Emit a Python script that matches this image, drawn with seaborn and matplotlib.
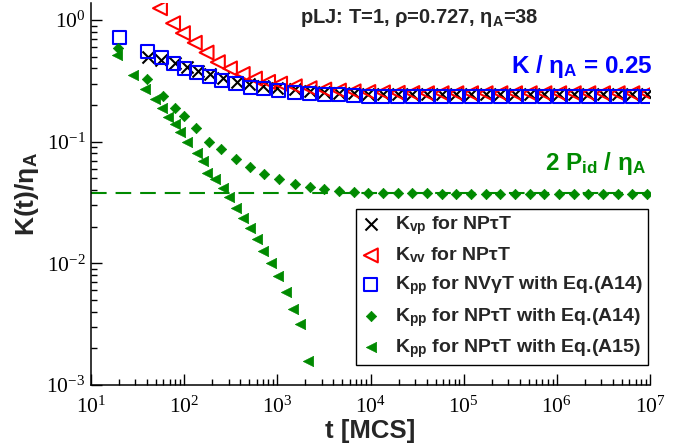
import numpy as np
import pandas as pd
import matplotlib
matplotlib.use('Agg')
import matplotlib.pyplot as plt
from matplotlib.ticker import FuncFormatter
import seaborn as sns

# --- values ---
# shared late-time grid (plateau region), MCS
t_late = [1540, 2220, 3190, 4580, 6590, 9470, 13600, 19600, 28100, 40400,
          58000, 83500, 120000, 172000, 248000, 356000, 512000, 736000,
          1060000, 1520000, 2180000, 3130000, 4500000, 6470000, 9300000]

# K_vp for NPtauT (black crosses)
t_vp = [41, 57, 80, 106, 142, 189, 263, 366, 500, 707, 1000] + t_late
k_vp = [0.50, 0.47, 0.44, 0.41, 0.38, 0.36, 0.335, 0.31, 0.30, 0.288, 0.278,
        0.27, 0.262, 0.256, 0.252, 0.249, 0.247, 0.246, 0.245, 0.245, 0.245,
        0.245, 0.245, 0.245, 0.245, 0.245, 0.245, 0.245, 0.245, 0.245, 0.245,
        0.245, 0.245, 0.245, 0.245, 0.245]

# K_vv for NPtauT (red open triangles)
t_vv = [55, 76, 97, 130, 174, 230, 310, 425, 575, 795, 1070] + t_late
k_vv = [1.25, 0.94, 0.78, 0.65, 0.54, 0.45, 0.40, 0.36, 0.33, 0.31, 0.30,
        0.285, 0.275, 0.268, 0.263, 0.259, 0.256, 0.254, 0.252, 0.251, 0.25,
        0.25, 0.25, 0.25, 0.25, 0.25, 0.25, 0.25, 0.25, 0.25, 0.25,
        0.25, 0.25, 0.25, 0.25, 0.25]

# K_pp for NVgammaT with Eq.(A14) (blue open squares)
t_pp_nvt = [20, 40, 57, 77, 100, 137, 186, 250, 360, 515, 717, 1040] + t_late
k_pp_nvt = [0.72, 0.556, 0.49, 0.44, 0.40, 0.37, 0.345, 0.32, 0.30, 0.28, 0.272, 0.262,
            0.255, 0.249, 0.245, 0.242, 0.239, 0.237, 0.236, 0.235, 0.235, 0.235,
            0.235, 0.235, 0.235, 0.235, 0.235, 0.235, 0.235, 0.235, 0.235, 0.235,
            0.235, 0.235, 0.235, 0.235, 0.235]

# K_pp for NPtauT with Eq.(A14) (green diamonds)
t_pp_a14 = [19.5, 40, 59, 80, 100, 135, 186, 250, 360, 515, 717, 1040] + t_late
k_pp_a14 = [0.589, 0.327, 0.238, 0.189, 0.163, 0.129, 0.0995, 0.087, 0.0716, 0.0616, 0.0543, 0.049,
            0.0449, 0.0422, 0.0405, 0.0396, 0.0389, 0.0382, 0.0378, 0.0377, 0.0376, 0.0376,
            0.0375, 0.0375, 0.0375, 0.0375, 0.0375, 0.0375, 0.0375, 0.0375, 0.0375, 0.0375,
            0.0375, 0.0375, 0.0375, 0.0375, 0.0375]

# K_pp for NPtauT with Eq.(A15) (green filled triangles)
t_pp_a15 = [19, 28.3, 38, 48.6, 57.8, 67, 79.6, 90, 106, 136, 158, 178, 213, 260,
            302, 360, 428, 508, 604, 700, 853, 1015, 1236, 1470, 1746, 2130]
k_pp_a15 = [0.515, 0.353, 0.271, 0.224, 0.189, 0.160, 0.140, 0.120, 0.100, 0.080,
            0.069, 0.055, 0.049, 0.042, 0.035, 0.0285, 0.0236, 0.0195, 0.0158,
            0.0126, 0.0101, 0.0079, 0.0058, 0.0042, 0.0032, 0.00158]

p_id_level = 0.038   # 2 P_id / eta_A, dashed line

# --- style ---
sns.set_theme(style='ticks')
plt.rcParams['font.family'] = ['Liberation Sans', 'DejaVu Sans']
plt.rcParams['mathtext.fontset'] = 'custom'
plt.rcParams['mathtext.rm'] = 'Liberation Serif:weight=normal'
plt.rcParams['mathtext.it'] = 'Liberation Serif:italic'
plt.rcParams['mathtext.bf'] = 'Liberation Sans:bold'
green = '#008a00'

W, H = 696, 444
fig = plt.figure(figsize=(W / 100, H / 100), dpi=100)
ax = fig.add_axes([91 / W, 1 - 385 / H, (650 - 91) / W, (385 - 3) / H])

sns.scatterplot(x=t_vp, y=k_vp, ax=ax, marker='x', s=75, color='black',
                linewidth=1.5, label=r'K$_\mathdefault{vp}$ for NPτT', zorder=3)
sns.scatterplot(x=t_vv, y=k_vv, ax=ax, marker='<', s=100, facecolor='none',
                edgecolor='red', linewidth=1.5, label=r'K$_\mathdefault{vv}$ for NPτT', zorder=3)
sns.scatterplot(x=t_pp_nvt, y=k_pp_nvt, ax=ax, marker='s', s=88, facecolor='none',
                edgecolor='blue', linewidth=1.5,
                label=r'K$_\mathdefault{pp}$ for NVγT with Eq.(A14)', zorder=3)
sns.scatterplot(x=t_pp_a14, y=k_pp_a14, ax=ax, marker='D', s=28, color=green,
                edgecolor=green, linewidth=0.5,
                label=r'K$_\mathdefault{pp}$ for NPτT with Eq.(A14)', zorder=3)
sns.scatterplot(x=t_pp_a15, y=k_pp_a15, ax=ax, marker='<', s=55, color=green,
                edgecolor=green, linewidth=0.5,
                label=r'K$_\mathdefault{pp}$ for NPτT with Eq.(A15)', zorder=3)

ax.axhline(p_id_level, color=green, lw=1.5, dashes=(7.5, 4.3), zorder=2)

ax.set_xscale('log')
ax.set_yscale('log')
ax.set_xlim(10, 1e7)
ax.set_ylim(1e-3, 1.38)
ax.set_xticks([1e1, 1e2, 1e3, 1e4, 1e5, 1e6, 1e7])
ax.set_yticks([1e-3, 1e-2, 1e-1, 1e0])

# serif power-of-ten labels, as in the original
pow_fmt = FuncFormatter(lambda v, pos: r'$\mathrm{10^{%d}}$' % round(np.log10(v)))
ax.xaxis.set_major_formatter(pow_fmt)
ax.yaxis.set_major_formatter(pow_fmt)

for side in ['top', 'right']:
    ax.spines[side].set_visible(False)
for side in ['left', 'bottom']:
    ax.spines[side].set_linewidth(1.1)
    ax.spines[side].set_color('black')

ax.tick_params(which='major', direction='in', length=8, width=1.0, colors='black',
               labelsize=15.5, pad=8)
ax.tick_params(which='minor', direction='in', length=4.5, width=1.0, colors='black')
ax.tick_params(axis='y', which='major', pad=4)

ax.set_xlabel('t [MCS]', fontsize=18.5, fontweight='bold', labelpad=1)
ax.set_ylabel(r'K(t)/η$_\mathdefault{A}$', fontsize=19, fontweight='bold', labelpad=4)

leg = ax.legend(loc='upper right', bbox_to_anchor=(0.9964, 0.4607), borderaxespad=0,
                frameon=True, fancybox=False, edgecolor='black', framealpha=1,
                prop={'size': 14, 'weight': 'bold'}, handlelength=1.0, handletextpad=0.75,
                labelspacing=0.45, borderpad=0.25)
leg.get_frame().set_linewidth(1.0)

fig.text(300 / W, 1 - 23 / H, r'pLJ: T=1, ρ=0.727, η$_\mathdefault{A}$=38',
         fontsize=14.5, fontweight='bold', va='baseline', ha='left')
fig.text(511 / W, 1 - 73 / H, r'K / η$_\mathdefault{A}$ = 0.25', color='blue',
         fontsize=17.5, fontweight='bold', va='baseline', ha='left')
fig.text(545 / W, 1 - 170 / H, r'2 P$_\mathdefault{id}$ / η$_\mathdefault{A}$', color=green,
         fontsize=17.5, fontweight='bold', va='baseline', ha='left')

fig.savefig('out.png', dpi=100)
